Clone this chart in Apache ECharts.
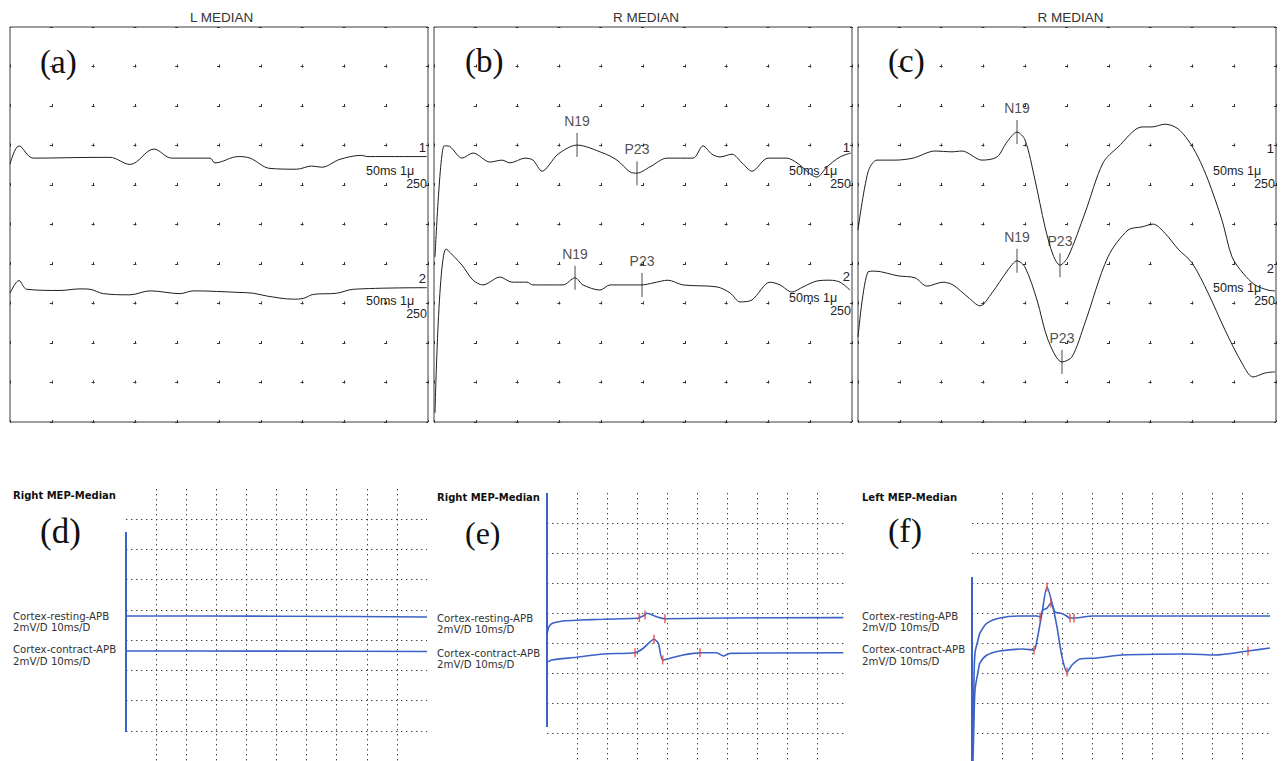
<!DOCTYPE html>
<html><head><meta charset="utf-8">
<script src="https://cdn.jsdelivr.net/npm/echarts@6/dist/echarts.min.js"></script>
<style>html,body{margin:0;padding:0;background:#fff}#chart{width:1281px;height:761px}</style>
</head><body><div id="chart"></div>
<script>
// ================= DATA =================
const panelTitles = ['L MEDIAN', 'R MEDIAN', 'R MEDIAN'];
const panelLetters = ['(a)', '(b)', '(c)', '(d)', '(e)', '(f)'];
const channelNames = ['1', '2'];
const sweepLabel = '50ms 1\u03bc';
const sensLabel = '250';
const mepTitles = ['Right MEP-Median', 'Right MEP-Median', 'Left MEP-Median'];
const mepRowNames = ['Cortex-resting-APB', 'Cortex-contract-APB'];
const mepScale = '2mV/D 10ms/D';

// SSEP traces: [time (ms), amplitude (divisions)]
const aTrace1 = [[0,6.53],[1.08,6.99],[2.79,6.68],[10.77,6.70],[11.96,6.70],[14.35,6.52],[17.22,6.91],[19.34,6.68],[23.92,6.68],[24.52,6.56],[27.31,6.72],[28.71,6.68],[31.1,6.42],[34.29,6.40],[36.09,6.48],[37.28,6.45],[39.47,6.65],[42.07,6.75],[42.67,6.72],[49.84,6.72]];
const aTrace2 = [[0,3.26],[1.08,3.58],[2.0,3.36],[5.98,3.33],[8.37,3.37],[9.57,3.36],[11.16,3.25],[14.35,3.22],[16.75,3.32],[20.33,3.25],[21.92,3.32],[27.51,3.28],[29.11,3.26],[30.7,3.19],[33.89,3.11],[35.09,3.13],[36.28,3.23],[39.08,3.26],[41.07,3.36],[49.84,3.40]];
const bTrace1 = [[0.12,4.18],[1.20,6.99],[1.67,6.99],[3.35,6.68],[4.67,6.81],[6.70,6.58],[8.13,6.63],[9.09,6.56],[10.89,6.68],[11.84,6.63],[12.92,6.35],[14.83,6.78],[17.11,7.01],[20.22,6.81],[21.89,6.63],[23.44,6.33],[24.28,6.30],[25.84,6.46],[27.87,6.68],[30.98,6.68],[32.18,6.99],[33.25,6.78],[34.21,6.71],[35.65,6.78],[36.84,6.56],[38.04,6.35],[39.95,6.68],[42.22,6.68],[43.42,6.56],[45.81,6.20],[47.01,6.46],[48.56,6.71],[49.88,6.81]];
const bTrace2 = [[0.12,0.23],[1.44,4.38],[3.35,3.97],[4.67,3.59],[5.86,3.47],[7.89,3.67],[9.33,3.54],[11.12,3.54],[11.84,3.47],[15.43,3.47],[16.87,3.65],[17.82,3.47],[19.86,3.34],[21.05,3.47],[24.88,3.47],[26.20,3.52],[27.99,3.59],[29.78,3.47],[33.85,3.42],[35.41,3.27],[36.60,3.04],[38.04,3.09],[40.19,3.54],[41.39,3.47],[42.82,3.29],[44.14,3.42],[45.81,3.57],[47.37,3.59],[48.56,3.54],[49.76,3.34]];
const cTrace1 = [[0,4.86],[1.20,6.33],[2.27,6.63],[4.43,6.63],[6.58,6.68],[9.21,6.86],[11.24,6.84],[12.44,6.86],[14.83,6.63],[16.63,6.71],[17.82,7.09],[19.02,7.34],[19.98,7.14],[21.17,6.13],[22.37,4.94],[23.33,4.23],[24.16,3.97],[25.12,4.18],[27.15,5.29],[29.31,6.56],[31.10,6.96],[33.97,7.47],[35.17,7.47],[36.72,7.54],[38.16,7.44],[39.47,7.14],[40.67,6.71],[41.87,6.13],[43.54,5.11],[44.74,4.18],[46.05,3.77],[47.49,3.47],[49.04,3.34],[49.88,3.32]];
const cTrace2 = [[0,2.15],[1.20,3.80],[2.03,3.82],[4.78,3.70],[6.82,3.65],[8.25,3.44],[10.17,3.54],[11.36,3.47],[13.16,3.16],[14.59,2.94],[16.03,3.27],[17.94,3.85],[19.02,4.08],[19.98,3.92],[21.41,3.09],[22.73,2.08],[24.40,1.52],[25.60,1.65],[27.15,2.51],[29.90,4.18],[32.30,4.86],[33.97,4.94],[35.29,5.01],[36.72,4.78],[38.28,4.38],[39.95,4.03],[41.87,3.27],[43.90,2.33],[45.93,1.49],[47.25,1.14],[48.68,1.24],[49.88,1.27]];
// Peak annotations: [label, time, amplitude]
const bPeaks1 = [['N19',17.11,7.01],['P23',24.28,6.30]];
const bPeaks2 = [['N19',16.87,3.65],['P23',24.88,3.47]];
const cPeaks1 = [['N19',19.02,7.34],['P23',24.16,3.97]];
const cPeaks2 = [['N19',19.02,4.08],['P23',24.40,1.52]];

// MEP traces: [time (ms), amplitude (mV)]
const dStim = [[0,15.16],[0,1.92]];
const dResting = [[0,9.60],[25,9.60],[50,9.58],[75,9.56],[100,9.53]];
const dContract = [[0,7.28],[25,7.28],[50,7.27],[75,7.26],[100,7.25]];
const eStim = [[0,18],[0,2.4]];
const eResting = [[0.1,8.65],[0.67,9.09],[2.0,9.33],[5.33,9.47],[11.0,9.53],[18.77,9.58],[29.9,9.65],[30.77,9.69],[32.67,9.87],[33.23,9.98],[36.57,9.75],[39.33,9.62],[60,9.67],[98.77,9.69]];
const eRestingMarks = [[30.77,9.69],[32.67,9.87],[39.33,9.62]];
const eContract = [[0.43,6.75],[1.57,6.87],[9.9,7.05],[18.77,7.27],[29.33,7.35],[32.1,7.65],[35.67,8.25],[37.1,7.98],[38.57,6.87],[41.0,6.98],[45.43,7.20],[48.77,7.31],[51.0,7.35],[56.57,7.35],[58.77,7.13],[61.0,7.31],[98.77,7.35]];
const eContractMarks = [[29.33,7.35],[35.67,8.25],[38.57,6.87],[51.0,7.35]];
const fStim = [[0,12.4],[0,0]];
const fResting = [[0.33,1.53],[0.67,5.53],[1.0,7.33],[2.0,8.2],[2.67,8.67],[5.0,9.33],[9.33,9.67],[16.0,9.8],[21.67,9.8],[22.67,9.73],[23.67,10.2],[25.0,10.33],[26.33,10.67],[27.67,10.07],[29.33,10.0],[31.0,9.87],[32.67,9.67],[34.0,9.67],[40.33,9.8],[99.33,9.8]];
const fRestingMarks = [[22.67,9.73],[26.33,10.67],[32.67,9.67],[34.0,9.67]];
const fContract = [[0.33,0.13],[0.67,2.87],[1.0,4.87],[2.0,6.07],[2.67,6.67],[5.0,7.2],[9.33,7.47],[17.0,7.6],[20.67,7.53],[21.67,8.2],[23.33,10.0],[25.0,11.73],[26.67,10.67],[28.33,9.07],[30.0,7.07],[31.67,6.07],[33.33,6.53],[36.0,6.93],[41.67,7.0],[50.0,7.2],[72.0,7.27],[81.0,7.2],[92.0,7.47],[99.33,7.67]];
const fContractMarks = [[20.67,7.53],[25.0,11.73],[31.67,6.07],[92.0,7.47]];

// ================= LAYOUT / STYLE =================
const SANS = "'Liberation Sans', Arial, sans-serif";
const SERIF = "'Liberation Serif', 'Times New Roman', serif";
const VERD = "'DejaVu Sans', Verdana, sans-serif";
const BLUE = '#3d62c6';
const RED = '#e2453f';
const INK = '#1e1e1e';

const topBoxes = [{left:10},{left:434},{left:858}];
const TOP_Y = 27, TOP_W = 418, TOP_H = 395;
const botBoxes = [{left:126, top:489, width:301, height:272},{left:547, top:493, width:300, height:270},{left:972, top:493, width:300, height:270}];

const grid = [], xAxis = [], yAxis = [], series = [], title = [];

topBoxes.forEach(b => {
  const gi = grid.length;
  grid.push({left:b.left, top:TOP_Y, width:TOP_W, height:TOP_H, show:true, borderColor:'#3c3c3c', borderWidth:1, backgroundColor:'transparent', containLabel:false, outerBoundsMode:'none'});
  const py = TOP_H/10, px = TOP_W/10;
  xAxis.push({gridIndex:gi, type:'value', min:0, max:50, interval:5, axisLine:{show:false}, axisTick:{show:false}, axisLabel:{show:false},
    splitLine:{show:true, lineStyle:{color:'#333', width:1, type:[3, py-3], dashOffset:1.5}}});
  yAxis.push({gridIndex:gi, type:'value', min:0, max:10, interval:1, axisLine:{show:false}, axisTick:{show:false}, axisLabel:{show:false},
    splitLine:{show:true, lineStyle:{color:'#333', width:1, type:[3, px-3], dashOffset:1.5}}});
});
botBoxes.forEach(b => {
  const gi = grid.length;
  grid.push({left:b.left, top:b.top, width:b.width, height:b.height, show:false, containLabel:false, outerBoundsMode:'none'});
  const dot = {color:'#3f3f3f', width:1, type:[1.4, 3.6]};
  xAxis.push({gridIndex:gi, type:'value', min:0, max:100, interval:10, axisLine:{show:false}, axisTick:{show:false}, axisLabel:{show:false},
    splitLine:{show:true, showMinLine:false, showMaxLine:false, lineStyle:dot}});
  yAxis.push({gridIndex:gi, type:'value', min:0, max:18, interval:2, axisLine:{show:false}, axisTick:{show:false}, axisLabel:{show:false},
    splitLine:{show:true, showMinLine:false, showMaxLine:false, lineStyle:dot}});
});

function trace(gi, data, color, width, smooth) {
  series.push({type:'line', xAxisIndex:gi, yAxisIndex:gi, data:data, showSymbol:false, symbol:'none', smooth:smooth,
    clip:false, silent:true, animation:false, lineStyle:{color:color, width:width}, z:3});
}
function peaks(gi, list) {
  series.push({type:'scatter', xAxisIndex:gi, yAxisIndex:gi, symbol:'rect', symbolSize:[1, 24], silent:true, animation:false, z:4,
    itemStyle:{color:INK},
    label:{show:true, position:'top', distance:5, formatter:'{b}', color:'#222', fontSize:14, fontFamily:SANS},
    data:list.map(p => ({name:p[0], value:[p[1], p[2]]}))});
}
function marks(gi, list) {
  series.push({type:'scatter', xAxisIndex:gi, yAxisIndex:gi, symbol:'rect', symbolSize:[1.6, 9], silent:true, animation:false, z:5,
    clip:false, itemStyle:{color:RED}, data:list});
}

trace(0, aTrace1, INK, 1, 0.35); trace(0, aTrace2, INK, 1, 0.35);
trace(1, bTrace1, INK, 1, 0.3); trace(1, bTrace2, INK, 1, 0.3);
peaks(1, bPeaks1); peaks(1, bPeaks2);
trace(2, cTrace1, INK, 1, 0.3); trace(2, cTrace2, INK, 1, 0.3);
peaks(2, cPeaks1); peaks(2, cPeaks2);

trace(3, dStim, BLUE, 2, false); trace(3, dResting, BLUE, 1.6, false); trace(3, dContract, BLUE, 1.6, false);
trace(4, eStim, BLUE, 2, false); trace(4, eResting, BLUE, 1.6, 0.3); trace(4, eContract, BLUE, 1.6, 0.25);
marks(4, eRestingMarks); marks(4, eContractMarks);
trace(5, fStim, BLUE, 2, false); trace(5, fResting, BLUE, 1.6, 0.3); trace(5, fContract, BLUE, 1.6, 0.25);
marks(5, fRestingMarks); marks(5, fContractMarks);

function txt(text, x, y, size, family, align, weight, color) {
  title.push({text:text, left:x, top:y, padding:0, textAlign:align, textVerticalAlign:'middle', triggerEvent:false,
    textStyle:{fontSize:size, fontFamily:family, fontWeight:weight || 'normal', color:color || '#222', lineHeight:size}});
}

// top panel titles / letters / channel labels
const topTitleX = [221.7, 646, 1070.5];
const topLetterPos = [[40,62],[465,61],[888,61]];
const chanRight = [426, 850, 1274];
const sweepLeft = [366, 789, 1213];
const chanRows = [[[147,171,184],[278,301,314]], [[147,171,184],[276,298,311]], [[148,171,184],[268,288,301]]];
for (let i = 0; i < 3; i++) {
  txt(panelTitles[i], topTitleX[i], 17.7, 13.5, SANS, 'center', 'normal', '#333');
  txt(panelLetters[i], topLetterPos[i][0], topLetterPos[i][1], 33, SERIF, 'left', 'normal', '#111');
  for (let c = 0; c < 2; c++) {
    const r = chanRows[i][c];
    txt(channelNames[c], chanRight[i], r[0], 13, SANS, 'right', 'normal', '#222');
    txt(sweepLabel, sweepLeft[i], r[1], 12.5, SANS, 'left', 'normal', '#222');
    txt(sensLabel, chanRight[i] + 1, r[2], 12.5, SANS, 'right', 'normal', '#222');
  }
}
// bottom panel texts
const mepTitlePos = [[13,495],[437,497],[862,497]];
const mepLetterPos = [[40,531,35],[465,533,32],[888,530,34]];
const mepRowX = [13, 437, 862];
const mepRowY = [[616,627.5,649,661],[618,629.5,653,664],[616,627.5,649,661]];
for (let i = 0; i < 3; i++) {
  txt(mepTitles[i], mepTitlePos[i][0], mepTitlePos[i][1], 10, VERD, 'left', 'bold', '#111');
  txt(panelLetters[3+i], mepLetterPos[i][0], mepLetterPos[i][1], mepLetterPos[i][2], SERIF, 'left', 'normal', '#111');
  const ys = mepRowY[i];
  txt(mepRowNames[0], mepRowX[i], ys[0], 10.2, VERD, 'left', 'normal', '#333');
  txt(mepScale, mepRowX[i], ys[1], 10.2, VERD, 'left', 'normal', '#333');
  txt(mepRowNames[1], mepRowX[i], ys[2], 10.2, VERD, 'left', 'normal', '#333');
  txt(mepScale, mepRowX[i], ys[3], 10.2, VERD, 'left', 'normal', '#333');
}

const chart = echarts.init(document.getElementById('chart'), null, {renderer:'svg'});
chart.setOption({backgroundColor:'#ffffff', animation:false, title:title, grid:grid, xAxis:xAxis, yAxis:yAxis, series:series, tooltip:{show:false}});
</script>
</body></html>
